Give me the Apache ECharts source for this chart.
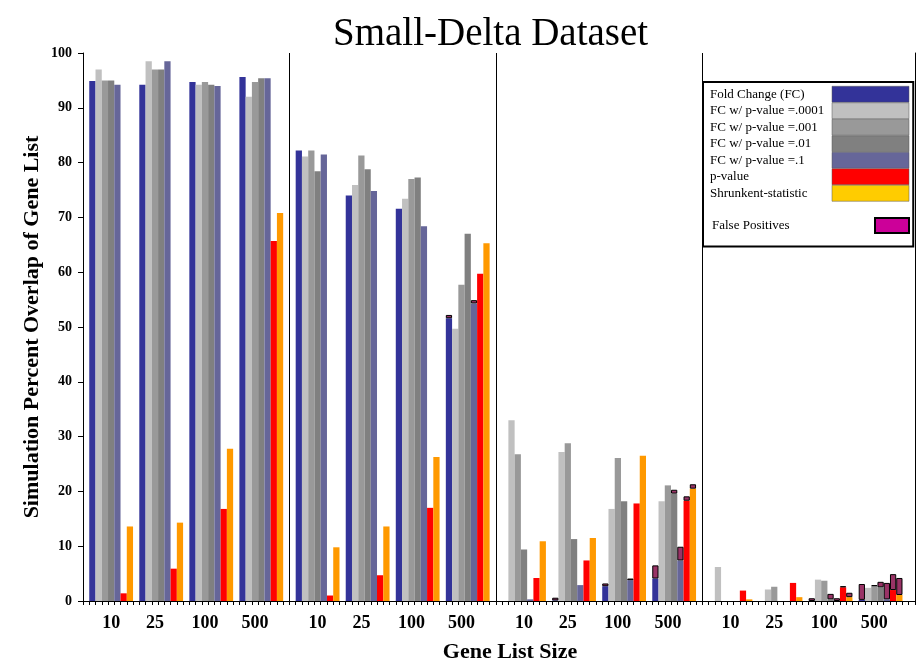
<!doctype html>
<html>
<head>
<meta charset="utf-8">
<title>Small-Delta Dataset</title>
<script src="https://cdn.jsdelivr.net/npm/echarts@6/dist/echarts.min.js"></script>
<style>
  html, body { margin: 0; padding: 0; background: #fff; }
  #main { width: 919px; height: 669px; }
</style>
</head>
<body>
<div id="main"></div>
<script type="text/javascript">
// gene list sizes, repeated in each of the four panels
var sizeLabels = ['10', '25', '100', '500'];
var panelCount = 4;

// the x axis is a row of narrow slots, one per bar (ticks under each)
var tickSlots = 133;
var panelStride = 33;
var groupSlots = [1, 9, 17, 25];   // first slot of each group inside a panel
var labelSlots = [4, 11, 19, 27];  // slot under which each size label sits

var seriesNames = ['Fold Change (FC)', 'FC w/ p-value =.0001', 'FC w/ p-value =.001',
    'FC w/ p-value =.01', 'FC w/ p-value =.1', 'p-value', 'Shrunkent-statistic'];

// values per panel: 10, 25, 100, 500 | 10, 25, 100, 500 | ...
var foldChange = [94.9, 94.2, 94.7, 95.6,  82.2, 74.0, 71.6, 51.6,  0, 0.1, 2.7, 4.1,  0, 0, 0, 0.2];
var fc0001     = [97.0, 98.5, 94.2, 92.0,  81.1, 75.9, 73.4, 49.7,  33.0, 27.2, 16.8, 18.2,  6.2, 2.1, 3.9, 2.4];
var fc001      = [95.0, 97.0, 94.7, 94.7,  82.2, 81.3, 77.0, 57.7,  26.8, 28.8, 26.1, 21.1,  0, 2.6, 3.7, 2.7];
var fc01       = [95.0, 97.0, 94.2, 95.4,  78.4, 78.8, 77.3, 67.0,  9.4, 11.3, 18.2, 19.6,  0, 0, 0.3, 2.5];
var fc1        = [94.2, 98.5, 94.0, 95.4,  81.5, 74.8, 68.4, 54.3,  0.3, 2.9, 3.8, 7.4,  0, 0, 0, 0.3];
var pValue     = [1.4, 5.9, 16.8, 65.7,  1.0, 4.7, 17.0, 59.7,  4.2, 7.4, 17.8, 18.3,  1.9, 3.3, 2.5, 2.0];
var shrunkenT  = [13.6, 14.3, 27.8, 70.8,  9.8, 13.6, 26.3, 65.3,  10.9, 11.5, 26.5, 20.5,  0.3, 0.7, 0.7, 1.1];

// false positives stacked on top of each bar
var fpFoldChange = [0, 0, 0, 0,  0, 0, 0, 0.6,  0, 0.5, 0.5, 2.4,  0, 0, 0.5, 2.9];
var fpFc0001     = [0, 0, 0, 0,  0, 0, 0, 0,  0, 0, 0, 0,  0, 0, 0, 0];
var fpFc001      = [0, 0, 0, 0,  0, 0, 0, 0,  0, 0, 0, 0,  0, 0, 0, 0.2];
var fpFc01       = [0, 0, 0, 0,  0, 0, 0, 0,  0, 0, 0, 0.7,  0, 0, 1.0, 1.0];
var fpFc1        = [0, 0, 0, 0,  0, 0, 0, 0.6,  0, 0, 0.3, 2.5,  0, 0, 0.5, 3.0];
var fpPValue     = [0, 0, 0, 0,  0, 0, 0, 0,  0, 0, 0, 0.8,  0, 0, 0.2, 2.9];
var fpShrunkenT  = [0, 0, 0, 0,  0, 0, 0, 0,  0, 0, 0, 0.8,  0, 0, 0.8, 3.1];

var barColors = ['#333399', '#c0c0c0', '#999999', '#808080', '#666699', '#ff0000', '#ff9900'];
var legendColors = ['#333399', '#c0c0c0', '#999999', '#808080', '#666699', '#ff0000', '#ffcc00'];

var values = [foldChange, fc0001, fc001, fc01, fc1, pValue, shrunkenT];
var falsePos = [fpFoldChange, fpFc0001, fpFc001, fpFc01, fpFc1, fpPValue, fpShrunkenT];

// slot labels: size labels under their slot, blank elsewhere
var slotLabels = [];
for (var t = 0; t < tickSlots; t++) slotLabels.push('');
for (var p = 0; p < panelCount; p++) {
    for (var g = 0; g < sizeLabels.length; g++) {
        slotLabels[p * panelStride + labelSlots[g]] = sizeLabels[g];
    }
}

// spread a 16-value array onto the slots, series k takes slot k of each group
function toSlots(arr, k, dropZero) {
    var out = [];
    for (var s = 0; s < tickSlots; s++) out.push(null);
    for (var p = 0; p < panelCount; p++) {
        for (var g = 0; g < sizeLabels.length; g++) {
            var v = arr[p * sizeLabels.length + g];
            out[p * panelStride + groupSlots[g] + k] = (dropZero && !v) ? null : v;
        }
    }
    return out;
}

var serif = 'Liberation Serif';

var series = [];
for (var i = 0; i < values.length; i++) {
    series.push({
        name: seriesNames[i],
        type: 'bar',
        stack: 'all',
        data: toSlots(values[i], i, false),
        itemStyle: { color: barColors[i] },
        barCategoryGap: '0%'
    });
}
for (var j = 0; j < falsePos.length; j++) {
    series.push({
        name: 'False Positives',
        type: 'bar',
        stack: 'all',
        data: toSlots(falsePos[j], j, true),
        itemStyle: { color: '#993366', borderColor: '#000', borderWidth: 1 },
        barCategoryGap: '0%'
    });
}

var chart = echarts.init(document.getElementById('main'));
chart.setOption({
    animation: false,
    backgroundColor: '#fff',
    title: {
        text: 'Small-Delta Dataset',
        left: 328,
        top: 10,
        textStyle: { fontFamily: serif, fontSize: 39, fontWeight: 'normal', color: '#000' }
    },
    legend: [{
        orient: 'vertical',
        left: 703,
        top: 82,
        padding: [4, 4, 45, 7],
        itemGap: 0,
        itemWidth: 77,
        itemHeight: 16,
        align: 'right',
        icon: 'rect',
        backgroundColor: '#fff',
        borderColor: '#000',
        borderWidth: 2,
        selectedMode: false,
        formatter: function (name) { return '{t|' + name + '}'; },
        textStyle: {
            fontFamily: serif, fontSize: 13, color: '#000',
            rich: { t: { width: 117, align: 'left', fontFamily: serif, fontSize: 13, lineHeight: 16 } }
        },
        data: seriesNames.map(function (n, k) {
            return { name: n, itemStyle: { color: legendColors[k], borderColor: '#555', borderWidth: 0.5 } };
        })
    }, {
        orient: 'vertical',
        left: 712,
        top: 217,
        z: 5,
        padding: 0,
        itemWidth: 34,
        itemHeight: 15,
        align: 'right',
        icon: 'rect',
        selectedMode: false,
        formatter: function (name) { return '{t|' + name + '}'; },
        textStyle: {
            fontFamily: serif, fontSize: 13, color: '#000',
            rich: { t: { width: 158, align: 'left', fontFamily: serif, fontSize: 13 } }
        },
        data: [{ name: 'False Positives', itemStyle: { color: '#cc0099', borderColor: '#000', borderWidth: 2 } }]
    }],
    grid: { left: 83, right: 4, top: 53, bottom: 68 },
    xAxis: {
        type: 'category',
        data: slotLabels,
        name: 'Gene List Size',
        nameLocation: 'middle',
        nameGap: 40,
        nameMoveOverlap: false,
        nameTextStyle: {
            fontFamily: serif, fontSize: 22, fontWeight: 'bold', color: '#000',
            padding: [0, 0, 0, 22]
        },
        axisLine: { show: true, lineStyle: { color: '#000', width: 1 } },
        axisTick: { show: true, interval: 0, length: 4, lineStyle: { color: '#000' } },
        axisLabel: {
            interval: 0, margin: 13,
            fontFamily: serif, fontSize: 18, fontWeight: 'bold', color: '#000'
        },
        splitLine: {
            show: true,
            interval: function (index) {
                return index % panelStride === 0 && index < panelCount * panelStride;
            },
            lineStyle: { color: '#000', width: 1 }
        }
    },
    yAxis: [{
        type: 'value',
        min: 0,
        max: 100,
        interval: 10,
        name: 'Simulation Percent Overlap of Gene List',
        nameLocation: 'middle',
        nameGap: 40,
        nameMoveOverlap: false,
        nameTextStyle: { fontFamily: serif, fontSize: 22, fontWeight: 'bold', color: '#000' },
        axisLine: { show: true, lineStyle: { color: '#000', width: 1 } },
        axisTick: { show: true, length: 5, lineStyle: { color: '#000' } },
        axisLabel: { margin: 11, fontFamily: serif, fontSize: 14, fontWeight: 'bold', color: '#000' },
        splitLine: { show: false }
    }, {
        type: 'value',
        min: 0,
        max: 100,
        position: 'right',
        axisLine: { show: true, lineStyle: { color: '#000', width: 1 } },
        axisTick: { show: false },
        axisLabel: { show: false },
        splitLine: { show: false }
    }],
    series: series
});
</script>
</body>
</html>
